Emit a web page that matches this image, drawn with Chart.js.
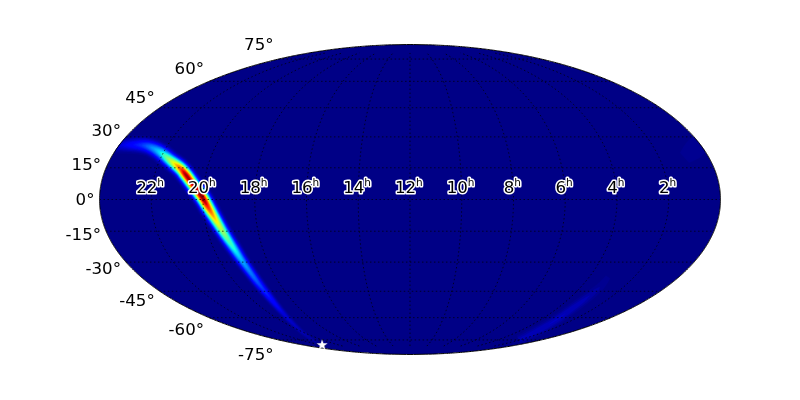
<!DOCTYPE html>
<html>
<head>
<meta charset="utf-8">
<style>
  html, body { margin: 0; padding: 0; background: #fff; }
  canvas { display: block; }
</style>
<script src="https://cdn.jsdelivr.net/npm/chart.js@4/dist/chart.umd.min.js"></script>
</head>
<body>
<canvas id="sky" width="800" height="400"></canvas>
<script>
//------------------------ DATA ----------------------------

const decTicks = [75, 60, 45, 30, 15, 0, -15, -30, -45, -60, -75];
const raTicks = [22, 20, 18, 16, 14, 12, 10, 8, 6, 4, 2];

// Main probability arc, in Mollweide map units, with peak and cross-width at each station
const arcX = [-2.714, -2.596, -2.459, -2.368, -2.277, -2.186, -2.095, -2.040, -1.967, -1.894, -1.840, -1.785, -1.730, -1.667, -1.594, -1.521, -1.430, -1.339, -1.157, -0.974, -0.801];
const arcY = [0.488, 0.497, 0.497, 0.479, 0.433, 0.360, 0.287, 0.223, 0.123, 0.023, -0.068, -0.160, -0.251, -0.351, -0.461, -0.570, -0.698, -0.817, -1.036, -1.218, -1.337];
const arcPeak = [0.06, 0.1, 0.17, 0.25, 0.36, 0.56, 0.82, 0.98, 0.95, 1.0, 0.88, 0.72, 0.6, 0.48, 0.38, 0.3, 0.24, 0.18, 0.09, 0.05, 0.02];
const arcSpread = [0.04, 0.04, 0.04, 0.04, 0.04, 0.038, 0.037, 0.036, 0.036, 0.036, 0.036, 0.035, 0.034, 0.033, 0.032, 0.03, 0.028, 0.026, 0.02, 0.016, 0.014];

// Faint mirror arc at the lower right
const mirrorX = [0.993, 1.257, 1.421, 1.585, 1.730, 1.804];
const mirrorY = [-1.283, -1.145, -1.036, -0.917, -0.799, -0.707];
const mirrorPeak = [0.05, 0.06, 0.06, 0.05, 0.03, 0.02];
const mirrorSpread = [0.03, 0.03, 0.03, 0.03, 0.03, 0.03];

// Very faint patch near the upper right edge
const patchX = [2.50, 2.60, 2.68];
const patchY = [0.38, 0.47, 0.55];
const patchPeak = [0.022, 0.03, 0.022];
const patchSpread = [0.07, 0.08, 0.07];

const starX = [-0.801];
const starY = [-1.328];

//------------------------ HELPERS ----------------------------

const SQRT2 = Math.SQRT2;
const SUBSTEPS = 8;

function project(latDeg, lonDeg) {
  const lat = latDeg * Math.PI / 180;
  const lon = lonDeg * Math.PI / 180;
  let theta = lat;
  for (let i = 0; i < 60; i++) {
    const denom = 2 + 2 * Math.cos(2 * theta);
    if (denom < 1e-6) break;
    theta -= (2 * theta + Math.sin(2 * theta) - Math.PI * Math.sin(lat)) / denom;
  }
  return { x: (2 * SQRT2 / Math.PI) * lon * Math.cos(theta), y: SQRT2 * Math.sin(theta) };
}

function jet(v) {
  const ramp = (stops) => {
    for (let i = 1; i < stops.length; i++) {
      if (v <= stops[i][0]) {
        const t = (v - stops[i - 1][0]) / (stops[i][0] - stops[i - 1][0]);
        return stops[i - 1][1] + t * (stops[i][1] - stops[i - 1][1]);
      }
    }
    return stops[stops.length - 1][1];
  };
  const r = ramp([[0, 0], [0.35, 0], [0.66, 1], [0.89, 1], [1, 0.5]]);
  const g = ramp([[0, 0], [0.125, 0], [0.375, 1], [0.64, 1], [0.91, 0], [1, 0]]);
  const b = ramp([[0, 0.5], [0.11, 1], [0.34, 1], [0.65, 0], [1, 0]]);
  return `rgb(${Math.round(r * 255)},${Math.round(g * 255)},${Math.round(b * 255)})`;
}

// Rounds off the polyline between stations so the colour bands have no corners
function smooth(values) {
  const out = [];
  for (let i = 0; i < values.length - 1; i++) {
    const p0 = values[Math.max(i - 1, 0)], p1 = values[i];
    const p2 = values[i + 1], p3 = values[Math.min(i + 2, values.length - 1)];
    for (let s = 0; s < SUBSTEPS; s++) {
      const t = s / SUBSTEPS;
      out.push(0.5 * (2 * p1 + (p2 - p0) * t + (2 * p0 - 5 * p1 + 4 * p2 - p3) * t * t + (3 * p1 - p0 - 3 * p2 + p3) * t * t * t));
    }
  }
  out.push(values[values.length - 1]);
  return out;
}

// Outline of the region of a ridge that lies above one colour level
function contour(xs, ys, peaks, spreads, level) {
  const left = [];
  const right = [];
  let any = false;
  xs.forEach((x, i) => {
    const a = xs[Math.max(i - 1, 0)], b = xs[Math.min(i + 1, xs.length - 1)];
    const c = ys[Math.max(i - 1, 0)], d = ys[Math.min(i + 1, ys.length - 1)];
    const len = Math.hypot(b - a, d - c);
    const half = peaks[i] > level ? spreads[i] * Math.sqrt(2 * Math.log(peaks[i] / level)) : 0;
    if (half > 0) any = true;
    left.push({ x: x - (d - c) / len * half, y: ys[i] + (b - a) / len * half });
    right.unshift({ x: x + (d - c) / len * half, y: ys[i] - (b - a) / len * half });
  });
  return any ? left.concat(right) : null;
}

//------------------------ DATASETS ----------------------------

const datasets = [];
let drawOrder = 1000;

// The small tension keeps Chart.js off its fast path, which merges points sharing a pixel column
const KEEP_POINTS = 0.001;

function addShape(points, fillColor) {
  datasets.push({
    data: points,
    showLine: true,
    fillColor: fillColor,
    borderColor: "transparent",
    borderWidth: 0,
    tension: KEEP_POINTS,
    pointRadius: 0,
    order: drawOrder--,
  });
}

// Sky background
const rim = [];
for (let lat = -90; lat <= 90; lat += 1) rim.push(project(lat, 180));
for (let lat = 90; lat >= -90; lat -= 1) rim.push(project(lat, -180));
addShape(rim, "rgb(0,0,134)");

// Colour bands, lowest level first
const ridges = [
  [arcX, arcY, arcPeak, arcSpread],
  [mirrorX, mirrorY, mirrorPeak, mirrorSpread],
  [patchX, patchY, patchPeak, patchSpread],
].map((ridge) => ridge.map(smooth));

for (let level = 0.015; level < 1; level += 0.015) {
  ridges.forEach(([xs, ys, ps, ss]) => {
    const outline = contour(xs, ys, ps, ss, level);
    if (outline) addShape(outline, jet(level));
  });
}

// Dotted graticule
function addGrid(points) {
  datasets.push({
    data: points,
    showLine: true,
    borderColor: "#000",
    borderWidth: 0.7,
    borderDash: [1.5, 2.5],
    pointRadius: 0,
    order: drawOrder--,
  });
}
decTicks.forEach((dec) => {
  addGrid([project(dec, -180), project(dec, 180)]);
});
for (let lon = -150; lon <= 150; lon += 30) {
  const meridian = [];
  for (let lat = -80; lat <= 80; lat += 2) meridian.push(project(lat, lon));
  addGrid(meridian);
}

// Outline
datasets.push({
  data: rim,
  showLine: true,
  borderColor: "#000",
  borderWidth: 1,
  tension: KEEP_POINTS,
  pointRadius: 0,
  clip: false,
  order: drawOrder--,
});

// Star marker
const starSprite = document.createElement("canvas");
starSprite.width = 12;
starSprite.height = 12;
const sp = starSprite.getContext("2d");
sp.fillStyle = "#fff";
sp.beginPath();
for (let i = 0; i < 10; i++) {
  const r = i % 2 ? 2.3 : 5.8;
  const a = -Math.PI / 2 + i * Math.PI / 5;
  sp.lineTo(6 + r * Math.cos(a), 6 + r * Math.sin(a));
}
sp.closePath();
sp.fill();

datasets.push({
  data: starX.map((x, i) => ({ x: x, y: starY[i] })),
  pointStyle: starSprite,
  pointRadius: 6,
  clip: false,
  order: drawOrder--,
});

//------------------------ PLUGINS ----------------------------

const shapeFill = {
  id: "shapeFill",
  beforeDatasetDraw(chart, args) {
    const ds = chart.data.datasets[args.index];
    if (!ds.fillColor) return;
    const ctx = chart.ctx;
    ctx.save();
    ctx.beginPath();
    chart.getDatasetMeta(0).dataset.path(ctx);
    ctx.closePath();
    ctx.clip();
    ctx.beginPath();
    args.meta.dataset.path(ctx);
    ctx.closePath();
    ctx.fillStyle = ds.fillColor;
    ctx.fill();
    ctx.restore();
  },
};

const skyLabels = {
  id: "skyLabels",
  afterDatasetsDraw(chart) {
    const ctx = chart.ctx;
    const sx = chart.scales.x;
    const sy = chart.scales.y;
    ctx.save();

    // Declination labels, pushed outwards from the rim
    ctx.font = "16.67px 'DejaVu Sans'";
    ctx.fillStyle = "#000";
    ctx.textAlign = "right";
    ctx.textBaseline = "middle";
    decTicks.forEach((dec) => {
      const p = project(dec, -180);
      ctx.fillText(dec + "°", sx.getPixelForValue(p.x) - 5, sy.getPixelForValue(p.y * 1.105) + 1);
    });

    // Right ascension labels with a white halo
    ctx.textAlign = "left";
    ctx.textBaseline = "alphabetic";
    ctx.lineJoin = "round";
    raTicks.forEach((ra) => {
      const p = project(0, (12 - ra) * 15);
      const digits = String(ra);
      ctx.font = "16.67px 'DejaVu Sans'";
      const w = ctx.measureText(digits).width;
      const x = sx.getPixelForValue(p.x) - (w + 7) / 2 - 1;
      const y = sy.getPixelForValue(0) - 6.5;
      ctx.strokeStyle = "#fff";
      ctx.lineWidth = 3;
      ctx.strokeText(digits, x, y);
      ctx.fillText(digits, x, y);
      ctx.font = "10.5px 'DejaVu Sans'";
      ctx.strokeText("h", x + w, y - 7);
      ctx.fillText("h", x + w, y - 7);
    });
    ctx.restore();
  },
};

//------------------------ CHART ----------------------------

new Chart(document.getElementById("sky").getContext("2d"), {
  type: "scatter",
  data: { datasets: datasets },
  plugins: [shapeFill, skyLabels],
  options: {
    responsive: false,
    animation: false,
    layout: { padding: { left: 99.5, right: 79.5, top: 44.5, bottom: 45.5 } },
    plugins: { legend: { display: false }, tooltip: { enabled: false } },
    scales: {
      x: { display: false, min: -2 * SQRT2, max: 2 * SQRT2 },
      y: { display: false, min: -SQRT2, max: SQRT2 },
    },
  },
});
</script>
</body>
</html>
